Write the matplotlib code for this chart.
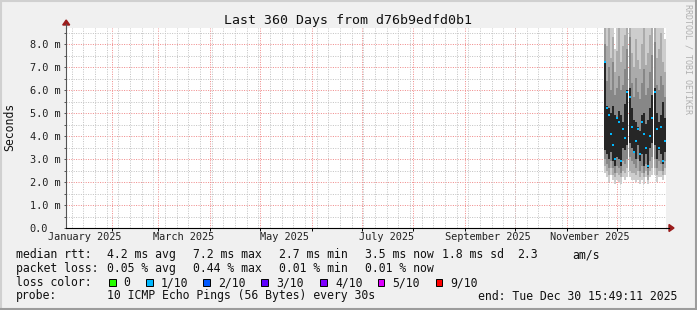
import numpy as np
import pandas as pd
import matplotlib
matplotlib.use('Agg')
import matplotlib.pyplot as plt
import matplotlib.dates as mdates
from matplotlib.patches import Rectangle, Polygon
from matplotlib.lines import Line2D

W, H = 697, 310
BG = '#f0f0f0'
MONO = 'DejaVu Sans Mono'
GRID_MINOR = '#c4c4c4'
GRID_MAJOR = '#f08c8c'
ARROW = '#9b1c1c'

# graph window
START = pd.Timestamp('2025-01-04 15:49:11')
END = pd.Timestamp('2025-12-30 15:49:11')

# y axis
y_ticks = [0, 1, 2, 3, 4, 5, 6, 7, 8]
y_labels = ['0.0', '1.0 m', '2.0 m', '3.0 m', '4.0 m', '5.0 m', '6.0 m', '7.0 m', '8.0 m']

# x axis labels (rrdtool centres them half a month in)
x_label_dates = ['2025-01-16', '2025-03-16', '2025-05-16', '2025-07-16', '2025-09-15', '2025-11-15']
x_labels = ['January 2025', 'March 2025', 'May 2025', 'July 2025', 'September 2025', 'November 2025']

# smoke bins (values in ms), 30h per bin from Nov 23
bin_start = pd.date_range('2025-11-23 03:49:11', periods=30, freq='30h')
BIN_W = 1.25
p10 = [8.7, 8.7, 8.7, 8.7, 8.7, 7.8, 8.7, 8.7, 8.7, 8.7, 8.7, 8.7, 8.7, 8.7, 8.7,
       8.7, 8.7, 8.7, 8.7, 8.7, 8.7, 8.7, 8.7, 8.7, 8.7, 8.7, 8.7, 8.7, 8.7, 8.2]
p9 = [8.7, 7.9, 8.7, 7.4, 8.3, 6.8, 7.7, 8.7, 7.2, 7.9, 8.4, 8.7, 8.7, 7.6, 7.0,
      8.2, 7.3, 6.9, 8.0, 8.7, 7.1, 7.6, 8.4, 8.7, 8.7, 7.4, 7.8, 8.5, 7.2, 6.8]
p8 = [8.0, 6.4, 7.0, 6.0, 7.2, 5.8, 6.1, 6.6, 6.0, 6.2, 6.9, 7.8, 8.3, 6.3, 5.7,
      6.5, 5.9, 5.6, 6.3, 6.9, 5.8, 6.1, 6.8, 7.5, 8.1, 6.2, 6.0, 6.6, 6.2, 5.7]
p7 = [7.2, 5.3, 5.2, 5.0, 5.3, 4.9, 4.8, 5.1, 4.9, 4.6, 5.4, 6.0, 6.1, 5.2, 4.7,
      4.6, 4.4, 4.2, 4.9, 5.0, 4.5, 4.7, 5.2, 5.8, 6.1, 5.0, 4.6, 4.9, 5.5, 4.8]
median = [7.2, 5.2, 4.9, 4.1, 3.6, 3.0, 4.8, 4.6, 2.9, 4.3, 3.9, 5.9, 5.7, 4.4, 3.3,
          3.8, 4.3, 3.2, 4.6, 4.1, 3.5, 2.7, 4.0, 4.8, 5.9, 4.3, 3.5, 4.4, 2.9, 3.8]
p4 = [3.4, 3.2, 3.0, 3.3, 2.9, 2.7, 3.1, 3.0, 2.7, 3.5, 3.4, 3.6, 3.7, 3.5, 3.3,
      3.0, 3.6, 2.9, 3.2, 2.7, 3.2, 2.6, 3.5, 3.7, 3.6, 3.0, 3.4, 3.2, 2.8, 3.3]
p3 = [3.0, 2.8, 2.6, 2.9, 2.6, 2.4, 2.7, 2.6, 2.4, 2.9, 2.8, 3.0, 3.1, 2.9, 2.8,
      2.6, 3.0, 2.5, 2.7, 2.4, 2.8, 2.3, 2.9, 3.1, 3.0, 2.6, 2.9, 2.8, 2.5, 2.9]
p2 = [2.7, 2.5, 2.3, 2.6, 2.3, 2.2, 2.4, 2.3, 2.2, 2.5, 2.4, 2.6, 2.5, 2.4, 2.4,
      2.3, 2.5, 2.2, 2.4, 2.2, 2.5, 2.1, 2.5, 2.6, 2.6, 2.3, 2.5, 2.5, 2.3, 2.6]
p1 = [2.4, 2.2, 2.0, 2.3, 2.1, 1.9, 2.1, 2.0, 1.9, 2.2, 2.1, 2.2, 2.2, 2.1, 2.1,
      2.0, 2.1, 1.9, 2.1, 1.9, 2.2, 1.9, 2.2, 2.3, 2.3, 2.0, 2.2, 2.2, 2.1, 2.3]

# legend
loss_labels = ['0', '1/10', '2/10', '3/10', '4/10', '5/10', '9/10']
loss_colors = ['#26ff00', '#00b8ff', '#0059ff', '#5e00ff', '#7e00ff', '#dd00ff', '#ff0000']
loss_box_x = [109, 146, 203, 261, 320, 378, 436]
loss_text_x = [123, 161, 218, 276, 335, 392, 450]

rtt_items = [('median rtt:', 16), ('4.2 ms avg', 107), ('7.2 ms max', 193), ('2.7 ms min', 279),
             ('3.5 ms now', 365), ('1.8 ms sd', 442), ('2.3', 517), ('am/s', 572)]
loss_items = [('packet loss:', 16), ('0.05 % avg', 107), ('0.44 % max', 193),
              ('0.01 % min', 279), ('0.01 % now', 365)]


def fx(px):
    return px / W


def fy(py):
    return 1 - py / H


fig = plt.figure(figsize=(W / 100, H / 100), dpi=100, facecolor=BG)
ax = fig.add_axes([fx(66), fy(228), 600 / W, 200 / H])
ax.set_facecolor('white')
ax.set_xlim(START, END)
ax.set_ylim(0, 200 / 23)

# grid
ax.set_yticks(y_ticks, y_labels)
ax.set_yticks(np.arange(0.5, 8.6, 1.0), minor=True)
month_starts = pd.date_range('2025-02-01', '2025-12-01', freq='MS')
weeks = pd.date_range('2025-01-08', '2025-12-30', freq='7D')
ax.set_xticks(pd.to_datetime(x_label_dates), x_labels)
ax.set_xticks(month_starts, minor=True)
dots = (0, (1, 1.4))
gkw = dict(ls=dots, lw=0.72, snap=True)
ax.grid(which='major', axis='y', color=GRID_MAJOR, **gkw)
ax.grid(which='minor', axis='y', color=GRID_MINOR, **gkw)
ax.grid(which='minor', axis='x', color=GRID_MAJOR, **gkw)
ax.grid(which='major', axis='x', visible=False)
ax.vlines(weeks, 0, 200 / 23, colors=GRID_MINOR, linestyles=dots, lw=0.72, zorder=0.6)
ax.set_axisbelow(True)

# smoke
xb = mdates.date2num(bin_start)
layers = [(p1, p10, '#cdcdcd'), (p2, p9, '#ababab'), (p3, p8, '#878787'), (p4, p7, '#262626')]
for lo, hi, col in layers:
    lo = np.array(lo)
    hi = np.array(hi)
    ax.bar(xb, hi - lo, bottom=lo, width=BIN_W, align='edge', color=col, linewidth=0, zorder=2)
ax.plot(xb + BIN_W / 2, median, ls='none', marker='s', ms=1.6, mew=0, color='#00b8ff', zorder=3)

# axes styling
for s in ['top', 'right']:
    ax.spines[s].set_visible(False)
ax.spines['left'].set_color('#555555')
ax.spines['bottom'].set_color('#000000')
ax.spines['left'].set_linewidth(0.8)
ax.spines['bottom'].set_linewidth(0.8)
ax.tick_params(axis='y', which='both', length=1.6, width=0.7, color='#555555',
               labelsize=7.4, pad=24.5, labelfontfamily=MONO, labelcolor='#222222')
for lab in ax.get_yticklabels():
    lab.set_horizontalalignment('left')
ax.tick_params(axis='x', which='major', length=0, labelsize=7.4, pad=3.2,
               labelfontfamily=MONO, labelcolor='#222222')
ax.tick_params(axis='x', which='minor', length=2.2, width=0.7, color='#000000', direction='out')

# axis extensions + arrows
fig.add_artist(Line2D([fx(666), fx(669)], [fy(228), fy(228)], color='black', lw=0.8))
fig.add_artist(Line2D([fx(66.2), fx(66.2)], [fy(28), fy(24)], color='#555555', lw=0.8))
fig.add_artist(Polygon([[fx(669), fy(224.5)], [fx(669), fy(231.5)], [fx(674), fy(228)]],
                       closed=True, color=ARROW, transform=fig.transFigure))
fig.add_artist(Polygon([[fx(62.7), fy(25)], [fx(69.7), fy(25)], [fx(66.2), fy(20)]],
                       closed=True, color=ARROW, transform=fig.transFigure))

# frame
fig.add_artist(Line2D([0, 1], [fy(0.7), fy(0.7)], color='#d0d0d0', lw=1.5))
fig.add_artist(Line2D([fx(0.7), fx(0.7)], [0, 1], color='#d0d0d0', lw=1.5))
fig.add_artist(Line2D([0, 1], [fy(309.3), fy(309.3)], color='#9c9c9c', lw=1.5))
fig.add_artist(Line2D([fx(696.3), fx(696.3)], [0, 1], color='#9c9c9c', lw=1.5))

# texts
fig.text(fx(348.5), fy(24), 'Last 360 Days from d76b9edfd0b1', ha='center', va='baseline',
         family=MONO, fontsize=9.5, color='#111111')
fig.text(fx(9.5), fy(127), 'Seconds', rotation=90, ha='center', va='center',
         family=MONO, fontsize=8.3, color='#111111')
fig.text(fx(688), fy(4), 'RRDTOOL / TOBI OETIKER', rotation=270, ha='center', va='top',
         family=MONO, fontsize=6.0, color='#b0b0b0')

for txt, x in rtt_items:
    fig.text(fx(x), fy(258.3), txt, ha='left', va='baseline', family=MONO, fontsize=8.3, color='#111111')
for txt, x in loss_items:
    fig.text(fx(x), fy(272), txt, ha='left', va='baseline', family=MONO, fontsize=8.3, color='#111111')
fig.text(fx(16), fy(286), 'loss color:', ha='left', va='baseline', family=MONO, fontsize=8.3, color='#111111')
for lab, col, bx, tx in zip(loss_labels, loss_colors, loss_box_x, loss_text_x):
    fig.add_artist(Rectangle((fx(bx), fy(286)), 6.5 / W, 7 / H, facecolor=col,
                             edgecolor='black', lw=0.7, transform=fig.transFigure))
    fig.text(fx(tx), fy(286), lab, ha='left', va='baseline', family=MONO, fontsize=8.3, color='#111111')
fig.text(fx(16), fy(299.5), 'probe:', ha='left', va='baseline', family=MONO, fontsize=8.3, color='#111111')
fig.text(fx(107), fy(299.5), '10 ICMP Echo Pings (56 Bytes) every 30s', ha='left', va='baseline',
         family=MONO, fontsize=8.3, color='#111111')
fig.text(fx(478), fy(299.5), 'end: Tue Dec 30 15:49:11 2025', ha='left', va='baseline',
         family=MONO, fontsize=8.3, color='#111111')

fig.savefig('out.png', dpi=100, facecolor=BG)
